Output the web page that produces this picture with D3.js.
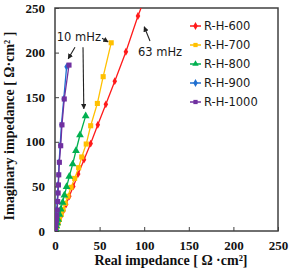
<!DOCTYPE html>
<html><head><meta charset="utf-8">
<script src="https://cdn.jsdelivr.net/npm/d3@7"></script>
<style>body{margin:0;background:#fff}svg{display:block}</style>
</head><body>
<svg id="c" width="290" height="270"></svg>
<script>
const seriesNames = ["R-H-600","R-H-700","R-H-800","R-H-900","R-H-1000"];
const seriesColors = ["#ff1a1a","#ffc000","#00b050","#1f6fd0","#7030a0"];
const seriesSymbols = ["diamond","square","triangle","diamond","square"];
const rh600 = [[0,0],[1,2],[2,4.5],[3.5,8],[5,12],[7,17],[9.5,23],[12.5,30],[16,39],[20.5,50],[26,64],[32.5,80],[40,98],[48,119],[57,142],[67,168],[79.5,201],[93,241],[106,275]];
const rh700 = [[0,0],[1,2.5],[2,5],[3.5,9],[5,13],[7,18.5],[9,24],[11.5,31],[14.5,39],[18,49],[22,59],[26.5,71],[30,83],[35,97.5],[40,118],[47.5,143],[54,173],[63,211]];
const rh800 = [[0,0],[0.7,2.5],[1.5,5.5],[2.5,9],[3.5,13],[5,18.5],[6.5,24.5],[8.5,32],[10.5,40],[13,49.5],[16,61],[19.8,75],[23.5,90],[28,107.6],[34.4,129]];
const rh900 = [[0,0],[0.3,3],[0.7,7],[1.1,12],[1.5,18],[2,24],[2.5,33],[3,43],[3.5,52],[4,63],[4.6,77],[5.8,96],[7.2,119],[9.8,148],[13,184]];
const rh1000 = [[0,0],[0.5,3],[1,7],[1.5,12],[2,17.5],[2.5,23.5],[3,33],[3.5,42.6],[3.9,51.6],[4.2,63],[4.9,77],[6.4,95.6],[7.8,119],[10.4,148],[15.7,186]];
const seriesData = [rh600, rh700, rh800, rh900, rh1000];
const xTicks = [0,50,100,150,200,250];
const yTicks = [0,50,100,150,200,250];

const svg = d3.select("#c");
const L=55, R=278, T=8, B=231;
const x = d3.scaleLinear().domain([0,250]).range([L,R]);
const y = d3.scaleLinear().domain([0,250]).range([B,T]);

svg.append("defs").append("clipPath").attr("id","clip")
  .append("rect").attr("x",L).attr("y",T).attr("width",R-L).attr("height",B-T);
const marker = svg.append("defs").append("marker").attr("id","arr")
  .attr("viewBox","0 0 10 10").attr("refX",9).attr("refY",5)
  .attr("markerWidth",5).attr("markerHeight",5).attr("orient","auto");
marker.append("path").attr("d","M0,0L10,5L0,10z").attr("fill","#222");

const axisColor="#404040";
const xa = svg.append("g").attr("transform",`translate(0,${B})`)
  .call(d3.axisBottom(x).tickValues(xTicks).tickSizeInner(-4).tickSizeOuter(0).tickPadding(10));
const ya = svg.append("g").attr("transform",`translate(${L},0)`)
  .call(d3.axisLeft(y).tickValues(yTicks).tickSizeInner(-4).tickSizeOuter(0).tickPadding(10));
[xa,ya].forEach(g=>{
  g.select(".domain").remove();
  g.selectAll("line").attr("stroke",axisColor);
  g.selectAll("text").attr("font-family","'Liberation Serif',serif").attr("font-weight","bold")
   .attr("font-size",13).attr("fill","#111");
});
svg.append("rect").attr("x",L).attr("y",T).attr("width",R-L).attr("height",B-T)
  .attr("fill","none").attr("stroke",axisColor).attr("stroke-width",1.5);

const line = d3.line().x(d=>x(d[0])).y(d=>y(d[1]));
const plot = svg.append("g").attr("clip-path","url(#clip)");
const symMap = {diamond:d3.symbolDiamond, square:d3.symbolSquare, triangle:d3.symbolTriangle};
seriesData.forEach((data,i)=>{
  plot.append("path").datum(data).attr("d",line).attr("fill","none")
    .attr("stroke",seriesColors[i]).attr("stroke-width",1.3);
  plot.selectAll(null).data(data).enter().append("path")
    .attr("d",d3.symbol().type(symMap[seriesSymbols[i]]).size(seriesSymbols[i]==="diamond"?18:26))
    .attr("transform",d=>`translate(${x(d[0])},${y(d[1])})`)
    .attr("fill",seriesColors[i]);
});

const leg = svg.append("g");
seriesNames.forEach((n,i)=>{
  const yy = 26 + i*19;
  leg.append("line").attr("x1",190).attr("x2",201).attr("y1",yy).attr("y2",yy)
    .attr("stroke",seriesColors[i]).attr("stroke-width",1.5);
  leg.append("path").attr("d",d3.symbol().type(symMap[seriesSymbols[i]]).size(18))
    .attr("transform",`translate(195.5,${yy})`).attr("fill",seriesColors[i]);
  leg.append("text").attr("x",204).attr("y",yy+4).text(n)
    .attr("font-family","'DejaVu Sans',sans-serif").attr("font-size",11.5).attr("fill","#1a1a1a");
});

const ann = svg.append("g").attr("font-family","'DejaVu Sans',sans-serif").attr("font-size",11.5).attr("fill","#1a1a1a");
ann.append("text").attr("x",x(2)).attr("y",y(213)).text("10 mHz");
ann.append("text").attr("x",x(93)).attr("y",y(196)).text("63 mHz");
const arrows = [[[22.4,206],[14.8,193]],[[31.4,206],[32.3,137]],[[52.7,216],[59.6,212]],[[106.5,213],[100,229]]];
arrows.forEach(a=>{
  svg.append("line").attr("x1",x(a[0][0])).attr("y1",y(a[0][1])).attr("x2",x(a[1][0])).attr("y2",y(a[1][1]))
    .attr("stroke","#222").attr("stroke-width",1.1).attr("marker-end","url(#arr)");
});

svg.append("text").attr("x",171).attr("y",265).attr("text-anchor","middle")
  .attr("font-family","'Liberation Serif',serif").attr("font-weight","bold").attr("font-size",14)
  .attr("fill","#111").text("Real impedance [ Ω ·cm²]");
svg.append("text").attr("transform","translate(14,126) rotate(-90)").attr("text-anchor","middle")
  .attr("font-family","'Liberation Serif',serif").attr("font-weight","bold").attr("font-size",14)
  .attr("fill","#111").text("Imaginary impedance [ Ω·cm² ]");
</script>
</body></html>
